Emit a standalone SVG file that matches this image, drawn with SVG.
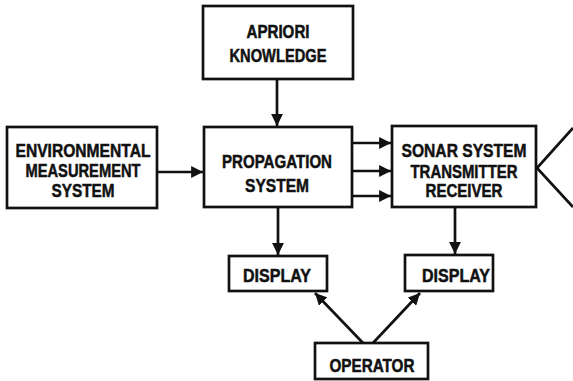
<svg xmlns="http://www.w3.org/2000/svg" width="573" height="381" viewBox="0 0 573 381">
<style>
.box{fill:#fff;stroke:#111;stroke-width:2.7}
.t{font-family:"Liberation Sans",Arial,sans-serif;font-weight:bold;font-size:18.5px;fill:#111;stroke:#111;stroke-width:0.5;text-anchor:middle}
.c{stroke:#111;stroke-width:2.7;fill:none}
</style>
<defs>
<marker id="ah" viewBox="0 0 10 10" refX="10" refY="5" markerWidth="4.4" markerHeight="4.4" markerUnits="strokeWidth" orient="auto">
<path d="M0,0 L10,5 L0,10 Z" fill="#111"/>
</marker>
</defs>
<rect width="573" height="381" fill="#fff"/>
<g id="connectors">
<line class="c" x1="277" y1="79" x2="277" y2="126" marker-end="url(#ah)"/>
<line class="c" x1="157" y1="172" x2="203" y2="172" marker-end="url(#ah)"/>
<line class="c" x1="352" y1="143" x2="391" y2="143" marker-end="url(#ah)"/>
<line class="c" x1="352" y1="171" x2="391" y2="171" marker-end="url(#ah)"/>
<line class="c" x1="352" y1="196" x2="391" y2="196" marker-end="url(#ah)"/>
<line class="c" x1="278" y1="207" x2="278" y2="255" marker-end="url(#ah)"/>
<line class="c" x1="455" y1="207" x2="455" y2="254" marker-end="url(#ah)"/>
<line class="c" x1="363" y1="343" x2="315" y2="293" marker-end="url(#ah)"/>
<line class="c" x1="373" y1="343" x2="420" y2="293" marker-end="url(#ah)"/>
<polyline class="c" points="573,128 537,168 573,207"/>
</g>
<g id="apriori">
<rect class="box" x="203" y="6" width="150" height="73"/>
<text class="t" x="278" y="38" textLength="63" lengthAdjust="spacingAndGlyphs">APRIORI</text>
<text class="t" x="278" y="62" textLength="97" lengthAdjust="spacingAndGlyphs">KNOWLEDGE</text>
</g>
<g id="environmental">
<rect class="box" x="7" y="127" width="150" height="81"/>
<text class="t" x="83" y="157" textLength="135" lengthAdjust="spacingAndGlyphs">ENVIRONMENTAL</text>
<text class="t" x="83" y="177" textLength="115" lengthAdjust="spacingAndGlyphs">MEASUREMENT</text>
<text class="t" x="83" y="197" textLength="63" lengthAdjust="spacingAndGlyphs">SYSTEM</text>
</g>
<g id="propagation">
<rect class="box" x="204" y="127" width="148" height="80"/>
<text class="t" x="277" y="168" textLength="110" lengthAdjust="spacingAndGlyphs">PROPAGATION</text>
<text class="t" x="277" y="192" textLength="64" lengthAdjust="spacingAndGlyphs">SYSTEM</text>
</g>
<g id="sonar">
<rect class="box" x="392" y="126" width="144" height="81"/>
<text class="t" x="464" y="157" textLength="125" lengthAdjust="spacingAndGlyphs">SONAR SYSTEM</text>
<text class="t" x="464" y="178" textLength="107" lengthAdjust="spacingAndGlyphs">TRANSMITTER</text>
<text class="t" x="464" y="197" textLength="77" lengthAdjust="spacingAndGlyphs">RECEIVER</text>
</g>
<g id="display1">
<rect class="box" x="229" y="256" width="98" height="35"/>
<text class="t" x="277" y="282" textLength="68" lengthAdjust="spacingAndGlyphs">DISPLAY</text>
</g>
<g id="display2">
<rect class="box" x="405" y="255" width="88" height="36"/>
<text class="t" x="456" y="282" textLength="68" lengthAdjust="spacingAndGlyphs">DISPLAY</text>
</g>
<g id="operator">
<rect class="box" x="315" y="343" width="113" height="36"/>
<text class="t" x="372" y="372" textLength="85" lengthAdjust="spacingAndGlyphs">OPERATOR</text>
</g>
</svg>
